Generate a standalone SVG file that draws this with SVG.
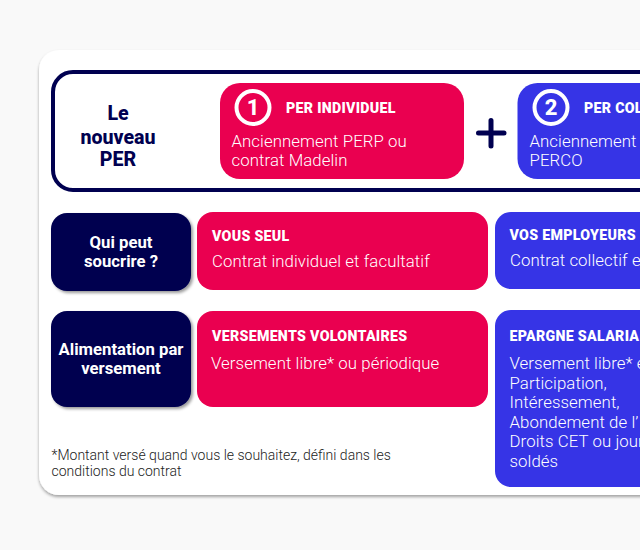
<svg xmlns="http://www.w3.org/2000/svg" width="640" height="550" viewBox="0 0 640 550">
<defs>
<filter id="card" x="-5%" y="-5%" width="110%" height="110%"><feDropShadow dx="0" dy="2" stdDeviation="1.5" flood-color="#000" flood-opacity="0.35"/></filter>
<filter id="lab" x="-10%" y="-10%" width="125%" height="125%"><feDropShadow dx="2" dy="2" stdDeviation="1.500" flood-color="#000" flood-opacity="0.4"/></filter>
</defs>
<style>
text{font-family:Roboto,"Liberation Sans",sans-serif}
.h{font-size:14.2px;font-weight:900;fill:#fff;letter-spacing:.3px}
.b{font-size:16.800px;font-weight:300;fill:#fff;letter-spacing:.08px}
.l{font-size:16.700px;font-weight:700;fill:#fff;text-anchor:middle}
.t{font-size:19.600px;font-weight:800;fill:#000050;text-anchor:middle}
.r{fill:#ea0050}
.v{fill:#3634e6}
.n{fill:#000050}
.ring{fill:none;stroke:#fff;stroke-width:4}
.d{font-size:22px;font-weight:800;fill:#fff;text-anchor:middle}
.f{font-size:14px;font-weight:300;fill:#222}
</style>
<rect width="640" height="550" fill="#f9f9f9"/>
<rect id="card-bg" x="39" y="50" width="640" height="445" rx="20" fill="#fff" filter="url(#card)"/>
<g id="header">
<rect x="53" y="72" width="640" height="118" rx="20" fill="#fff" stroke="#000050" stroke-width="4"/>
<text class="t"><tspan x="118" y="120">Le</tspan><tspan x="118" y="144">nouveau</tspan><tspan x="118" y="166">PER</tspan></text>
</g>
<g id="per-individuel">
<rect class="r" x="220" y="83" width="244" height="96" rx="20"/>
<circle class="ring" cx="253" cy="107.500" r="16.500"/>
<text class="d" x="253" y="115">1</text>
<text class="h" x="286" y="113">PER INDIVIDUEL</text>
<text class="b"><tspan x="231.500" y="147">Anciennement PERP ou</tspan><tspan x="231.500" y="166">contrat Madelin</tspan></text>
</g>
<g id="plus"><path d="M478.500 133H504M491 120.500V146" fill="none" stroke="#000050" stroke-width="5" stroke-linecap="round"/></g>
<g id="per-collectif">
<rect class="v" x="517.500" y="83" width="240" height="96" rx="20"/>
<circle class="ring" cx="551" cy="107.500" r="16.500"/>
<text class="d" x="551" y="115">2</text>
<text class="h" x="584" y="113">PER COL</text>
<text class="b"><tspan x="529.500" y="147">Anciennement</tspan><tspan x="529.500" y="166">PERCO</tspan></text>
</g>
<g id="label-qui">
<rect class="n" x="51" y="213" width="140" height="78" rx="16" filter="url(#lab)"/>
<text class="l"><tspan x="121" y="248">Qui peut</tspan><tspan x="121" y="267">soucrire ?</tspan></text>
</g>
<g id="vous-seul">
<rect class="r" x="197" y="212" width="291" height="78" rx="16"/>
<text class="h" x="212" y="241">VOUS SEUL</text>
<text class="b" x="212" y="267">Contrat individuel et facultatif</text>
</g>
<g id="vos-employeurs">
<rect class="v" x="495" y="212" width="240" height="77" rx="16"/>
<text class="h" x="509.500" y="240">VOS EMPLOYEURS</text>
<text class="b" x="510" y="266">Contrat collectif e</text>
</g>
<g id="label-alim">
<rect class="n" x="51" y="311" width="140" height="96" rx="16" filter="url(#lab)"/>
<text class="l"><tspan x="121" y="355">Alimentation par</tspan><tspan x="121" y="374">versement</tspan></text>
</g>
<g id="versements">
<rect class="r" x="197" y="311" width="291" height="96" rx="16"/>
<text class="h" x="212" y="341">VERSEMENTS VOLONTAIRES</text>
<text class="b" x="211" y="369">Versement libre* ou périodique</text>
</g>
<g id="epargne">
<rect class="v" x="495" y="310" width="240" height="177" rx="16"/>
<text class="h" x="509.500" y="341">EPARGNE SALARIA</text>
<text class="b"><tspan x="509.500" y="369">Versement libre* e</tspan><tspan x="509.500" y="389">Participation,</tspan><tspan x="509.500" y="408">Intéressement,</tspan><tspan x="509.500" y="428">Abondement de l’</tspan><tspan x="509.500" y="447">Droits CET ou jour</tspan><tspan x="509.500" y="467">soldés</tspan></text>
</g>
<g id="footnote">
<text class="f"><tspan x="51.500" y="460">*Montant versé quand vous le souhaitez, défini dans les</tspan><tspan x="51.500" y="476">conditions du contrat</tspan></text>
</g>
<g id="connectors"/>
</svg>
